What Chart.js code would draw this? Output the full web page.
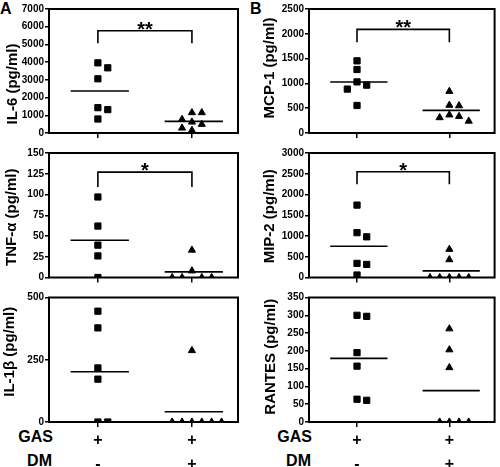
<!DOCTYPE html>
<html>
<head>
<meta charset="utf-8">
<script src="https://cdn.jsdelivr.net/npm/chart.js@4.4.0/dist/chart.umd.min.js"></script>
<style>
  body { margin: 0; background: #fff; }
  #page { position: relative; width: 500px; height: 467px; overflow: hidden; background: #fff; font-family: "Liberation Sans", Arial, sans-serif; }
  canvas { position: absolute; }
  .tag { position: absolute; font-weight: bold; color: #000; line-height: 1; }
  .row-lbl { position: absolute; font-weight: bold; font-size: 16px; color: #000; text-align: right; width: 60px; line-height: 1; }
</style>
</head>
<body>
<div id="page">
  <div class="tag" style="left:0px;top:1px;font-size:16px;">A</div>
  <div class="tag" style="left:250px;top:1px;font-size:16px;">B</div>
  <div class="row-lbl" style="left:-7px;top:429px;">GAS</div>
  <div class="row-lbl" style="left:-8px;top:453px;">DM</div>
  <div class="row-lbl" style="left:252px;top:429px;">GAS</div>
  <div class="row-lbl" style="left:251px;top:453px;">DM</div>
</div>
<script>
// groups on the x axis: GAS+/DM-  and  GAS+/DM+
const categories = [1, 2];
const gasSigns = ['+', '+'];
const dmSigns = ['-', '+'];

// column A
const il6Gas = [3960, 3680, 3060, 1430, 1320, 790];
const il6GasDm = [1150, 1150, 770, 620, 490, 280, 150];
const tnfGas = [97, 62, 39, 26, 0];
const tnfGasDm = [33, 8, 0, 0, 0, 0];
const il1bGas = [445, 378, 217, 172, 0, 0];
const il1bGasDm = [287, 0, 0, 0, 0, 0, 0];

// column B
const mcp1Gas = [1455, 1280, 1030, 965, 885, 555];
const mcp1GasDm = [840, 560, 550, 365, 335, 310, 240];
const mip2Gas = [1745, 1080, 980, 340, 315, 60];
const mip2GasDm = [680, 430, 0, 0, 0, 0, 0];
const rantesGas = [300, 297, 195, 157, 64, 61];
const rantesGasDm = [262, 203, 153, 0, 0, 0, 0];

// significance brackets: [leg end, top]
const il6Bracket = [5060, 5770];
const mcp1Bracket = [1830, 2090];
const tnfBracket = [109, 127];
const mip2Bracket = [2250, 2550];

// y axis ranges: [max, step]
const il6Axis = [7000, 1000];
const tnfAxis = [150, 25];
const il1bAxis = [500, 250];
const mcp1Axis = [2500, 500];
const mip2Axis = [3000, 500];
const rantesAxis = [350, 50];

Chart.defaults.font.family = '"Liberation Sans", Arial, sans-serif';
Chart.defaults.font.weight = 'bold';
Chart.defaults.color = '#000';

const cols = [
  { left: 0, areaLeft: 49, padRight: 12 },
  { left: 250, areaLeft: 59, padRight: 2 }
];
const rows = [
  { top: 0, h: 145, padTop: 9, xh: 12 },
  { top: 145, h: 144, padTop: 8, xh: 11.5 },
  { top: 289, h: 178, padTop: 8.5, xh: 45 }
];

const panels = [
  { col: 0, row: 0, title: 'IL-6 (pg/ml)', tx: 13, shift: 13, data: [il6Gas, il6GasDm], axis: il6Axis, bracket: il6Bracket, sig: '**' },
  { col: 0, row: 1, title: 'TNF-\u03b1 (pg/ml)', tx: 12, shift: 2, data: [tnfGas, tnfGasDm], axis: tnfAxis, bracket: tnfBracket, sig: '*' },
  { col: 0, row: 2, title: 'IL-1\u03b2 (pg/ml)', tx: 10, shift: -8, data: [il1bGas, il1bGasDm], axis: il1bAxis },
  { col: 1, row: 0, title: 'MCP-1 (pg/ml)', tx: 20, shift: -3, data: [mcp1Gas, mcp1GasDm], axis: mcp1Axis, bracket: mcp1Bracket, sig: '**' },
  { col: 1, row: 1, title: 'MIP-2 (pg/ml)', tx: 20, shift: 1, data: [mip2Gas, mip2GasDm], axis: mip2Axis, bracket: mip2Bracket, sig: '*' },
  { col: 1, row: 2, title: 'RANTES (pg/ml)', tx: 21, shift: -3, data: [rantesGas, rantesGasDm], axis: rantesAxis }
];

const slot = 0.105;
const slotOrder = [0, 1, -1, 2, -2, 3, -3];

// spread points that would overlap sideways, like a column scatter
function spread(values, center, max) {
  const near = max * 0.06;
  const placed = [];
  const sorted = values.slice().sort((a, b) => b - a);
  sorted.forEach((v) => {
    const k = slotOrder.find((s) => !placed.some((p) => p.s === s && Math.abs(p.v - v) < near));
    placed.push({ v, s: k });
  });
  return placed.map((p) => ({ x: center + p.s * slot, y: p.v }));
}

const mean = (arr) => arr.reduce((a, b) => a + b, 0) / arr.length;

const framePlugin = {
  id: 'frame',
  afterDatasetsDraw(chart, args, opts) {
    const { ctx, chartArea: a, scales } = chart;
    ctx.save();
    ctx.strokeStyle = '#000';
    ctx.lineWidth = 2;
    ctx.strokeRect(a.left, a.top, a.right - a.left, a.bottom - a.top);
    if (opts.sig) {
      ctx.fillStyle = '#000';
      ctx.font = 'bold 20px "Liberation Sans", Arial, sans-serif';
      ctx.textAlign = 'center';
      ctx.textBaseline = 'alphabetic';
      ctx.fillText(opts.sig, scales.x.getPixelForValue(1.5), scales.y.getPixelForValue(opts.sigAt) + 5);
    }
    ctx.translate(opts.tx, (a.top + a.bottom) / 2 + opts.shift);
    ctx.rotate(-Math.PI / 2);
    ctx.fillStyle = '#000';
    ctx.font = 'bold 15px "Liberation Sans", Arial, sans-serif';
    ctx.textAlign = 'center';
    ctx.textBaseline = 'middle';
    ctx.fillText(opts.title, 0, 0);
    ctx.restore();
  }
};

const page = document.getElementById('page');

panels.forEach((p) => {
  const c = cols[p.col];
  const r = rows[p.row];
  const canvas = document.createElement('canvas');
  canvas.width = 250;
  canvas.height = r.h;
  canvas.style.left = c.left + 'px';
  canvas.style.top = r.top + 'px';
  page.appendChild(canvas);

  const [max, step] = p.axis;
  const datasets = [];
  p.data.forEach((vals, i) => {
    datasets.push({
      data: spread(vals, categories[i], max),
      pointStyle: i === 0 ? 'rect' : 'triangle',
      pointRadius: i === 0 ? 4.4 : 4.1,
      pointBackgroundColor: '#000',
      pointBorderColor: '#000',
      pointBorderWidth: 1
    });
    const m = mean(vals);
    datasets.push({
      data: [{ x: categories[i] - 0.29, y: m }, { x: categories[i] + 0.33, y: m }],
      showLine: true,
      borderColor: '#000',
      borderWidth: 1.6,
      pointRadius: 0
    });
  });
  if (p.bracket) {
    const [leg, top] = p.bracket;
    datasets.push({
      data: [{ x: categories[0], y: leg }, { x: categories[0], y: top }, { x: categories[1], y: top }, { x: categories[1], y: leg }],
      showLine: true,
      borderColor: '#000',
      borderWidth: 1.6,
      pointRadius: 0
    });
  }

  new Chart(canvas, {
    type: 'scatter',
    data: { datasets },
    options: {
      responsive: false,
      animation: false,
      events: [],
      devicePixelRatio: 1,
      layout: { padding: { left: 0, right: c.padRight, top: r.padTop, bottom: 0 } },
      plugins: {
        legend: { display: false },
        tooltip: { enabled: false },
        frame: { title: p.title, tx: p.tx, shift: p.shift, sig: p.sig, sigAt: p.bracket ? p.bracket[1] : 0 }
      },
      scales: {
        x: {
          type: 'linear',
          min: 0.48,
          max: 2.49,
          afterBuildTicks: (scale) => { scale.ticks = categories.map((v) => ({ value: v })); },
          afterFit: (scale) => { scale.height = r.xh; },
          border: { display: false },
          grid: { drawOnChartArea: false, drawTicks: true, tickLength: 5, color: '#000', lineWidth: 1.5 },
          ticks: {
            autoSkip: false,
            maxRotation: 0,
            padding: 2,
            font: { size: 16, weight: 'bold', lineHeight: 1.5 },
            callback: (v) => {
              const i = categories.indexOf(v);
              return p.row === 2 ? [gasSigns[i], dmSigns[i]] : '';
            }
          }
        },
        y: {
          min: 0,
          max: max,
          afterFit: (scale) => { scale.width = c.areaLeft; },
          border: { display: false },
          grid: { drawOnChartArea: false, drawTicks: true, tickLength: 4, color: '#000', lineWidth: 1.5 },
          ticks: {
            stepSize: step,
            padding: 1,
            font: { size: 10, weight: 'bold' },
            callback: (v) => String(v)
          }
        }
      }
    },
    plugins: [framePlugin]
  });
});
</script>
</body>
</html>
